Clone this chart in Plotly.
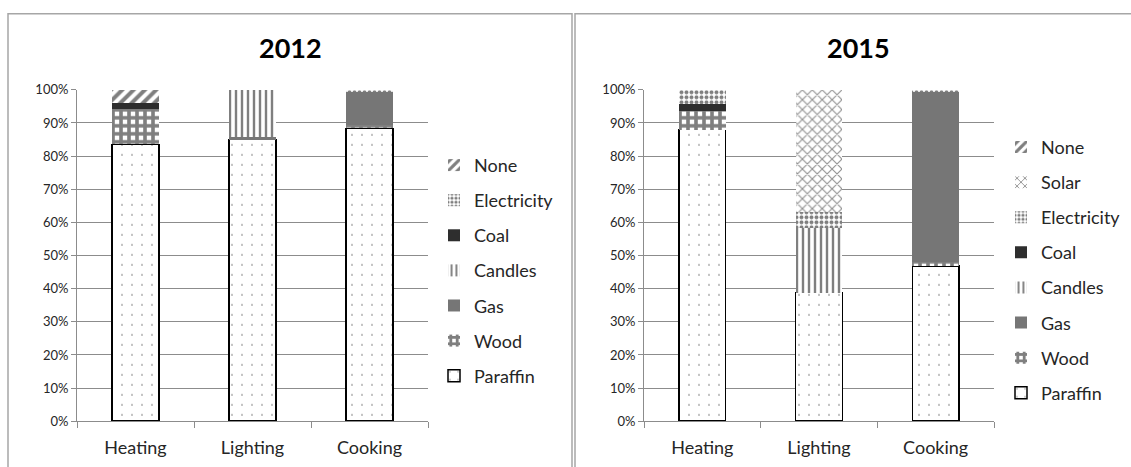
import plotly.graph_objects as go

categories = ["Heating", "Lighting", "Cooking"]

# 2012 (percent of households), stacked bottom -> top
y2012_paraffin = [83.5, 85.0, 88.4]
y2012_wood = [10.7, 0.0, 1.0]
y2012_gas = [0.0, 0.8, 9.8]
y2012_candles = [0.0, 14.2, 0.0]
y2012_coal = [1.8, 0.0, 0.0]
y2012_electricity = [0.0, 0.0, 0.8]
y2012_none = [4.0, 0.0, 0.0]

# 2015
y2015_paraffin = [88.0, 38.8, 46.8]
y2015_wood = [5.7, 0.0, 1.2]
y2015_gas = [0.0, 0.0, 51.2]
y2015_candles = [0.0, 19.4, 0.0]
y2015_coal = [2.1, 0.0, 0.0]
y2015_electricity = [4.2, 5.0, 0.8]
y2015_solar = [0.0, 36.8, 0.0]
y2015_none = [0.0, 0.0, 0.0]

W, H = 1131, 467
# the rendered plot area is inset vertically by ~8 px top and bottom
TOP, PH = 8.3, 450.4
def px(x):
    return x / W
def py(y):
    return 1 - (y - TOP) / PH

FONT = "Lato"
GRID = "#8c8c8c"

styles = {
    "Paraffin": dict(color="white", line=dict(color="#000000", width=1.5),
                     pattern=dict(shape=".", fgcolor="#000000", bgcolor="white", size=10, solidity=0.022)),
    "Wood": dict(color="white", line=dict(width=0),
                 pattern=dict(shape="+", fgcolor="#000000", bgcolor="white", size=8, solidity=0.7)),
    "Gas": dict(color="#767676", line=dict(width=0)),
    "Candles": dict(color="white", line=dict(width=0),
                    pattern=dict(shape="|", fgcolor="#000000", bgcolor="white", size=6, solidity=0.4)),
    "Coal": dict(color="#2e2e2e", line=dict(width=0)),
    "Electricity": dict(color="white", line=dict(width=0),
                        pattern=dict(shape=".", fgcolor="#000000", bgcolor="white", size=5, solidity=0.5)),
    "Solar": dict(color="white", line=dict(width=0),
                  pattern=dict(shape="x", fgcolor="#222222", bgcolor="white", size=7, solidity=0.3)),
    "None": dict(color="white", line=dict(width=0),
                 pattern=dict(shape="/", fgcolor="#000000", bgcolor="white", size=8, solidity=0.5)),
}

series2012 = [("Paraffin", y2012_paraffin), ("Wood", y2012_wood), ("Gas", y2012_gas),
              ("Candles", y2012_candles), ("Coal", y2012_coal),
              ("Electricity", y2012_electricity), ("None", y2012_none)]
series2015 = [("Paraffin", y2015_paraffin), ("Wood", y2015_wood), ("Gas", y2015_gas),
              ("Candles", y2015_candles), ("Coal", y2015_coal),
              ("Electricity", y2015_electricity), ("Solar", y2015_solar), ("None", y2015_none)]

fig = go.Figure()
for i, (name, vals) in enumerate(series2012):
    fig.add_trace(go.Bar(x=categories, y=vals, name=name, marker=styles[name],
                         xaxis="x", yaxis="y", legend="legend", legendgroup="a" + name,
                         legendrank=100 - i))
for i, (name, vals) in enumerate(series2015):
    fig.add_trace(go.Bar(x=categories, y=vals, name=name, marker=styles[name],
                         xaxis="x2", yaxis="y2", legend="legend2", legendgroup="b" + name,
                         legendrank=100 - i))

xcommon = dict(showline=True, linecolor=GRID, linewidth=1, ticks="outside", tickson="boundaries",
               ticklen=6, tickcolor=GRID, showgrid=False, ticklabelstandoff=10,
               tickfont=dict(family=FONT, size=18, color="#262626"), fixedrange=True)
ycommon = dict(showline=True, linecolor=GRID, linewidth=1, ticks="outside", ticklen=5, tickcolor=GRID,
               showgrid=True, gridcolor=GRID, gridwidth=1, range=[0, 100], dtick=10, ticksuffix="%",
               zeroline=False, tickfont=dict(family=FONT, size=13, color="#262626"), fixedrange=True)

legcommon = dict(traceorder="grouped", tracegroupgap=8.7, font=dict(family=FONT, size=18, color="#262626"),
                 bgcolor="rgba(0,0,0,0)", xanchor="left", yanchor="top", itemwidth=30)

fig.update_layout(
    width=W, height=H, autosize=False,
    margin=dict(l=0, r=0, t=0, b=0),
    paper_bgcolor="white", plot_bgcolor="white",
    barmode="stack", bargap=0.6,
    showlegend=True,
    xaxis=dict(domain=[px(77), px(428)], anchor="y", **xcommon),
    yaxis=dict(domain=[py(421), py(90)], anchor="x", **ycommon),
    xaxis2=dict(domain=[px(644), px(994)], anchor="y2", **xcommon),
    yaxis2=dict(domain=[py(421), py(90)], anchor="x2", **ycommon),
    legend=dict(x=px(434), y=py(147), **legcommon),
    legend2=dict(x=px(1001), y=py(129), **legcommon),
    shapes=[
        dict(type="rect", xref="paper", yref="paper", x0=px(8), x1=px(572), y0=-0.1, y1=py(14),
             line=dict(color="#a6a6a6", width=1.5), fillcolor="rgba(0,0,0,0)", layer="below"),
        dict(type="rect", xref="paper", yref="paper", x0=px(575), x1=px(1140), y0=-0.1, y1=py(14),
             line=dict(color="#a6a6a6", width=1.5), fillcolor="rgba(0,0,0,0)", layer="below"),
    ],
    annotations=[
        dict(text="<b>2012</b>", x=px(290), y=py(48), xref="paper", yref="paper", showarrow=False,
             font=dict(family=FONT, size=27, color="black"), xanchor="center", yanchor="middle"),
        dict(text="<b>2015</b>", x=px(858), y=py(48), xref="paper", yref="paper", showarrow=False,
             font=dict(family=FONT, size=27, color="black"), xanchor="center", yanchor="middle"),
    ],
)

fig.write_html("out.html", post_script="document.body.style.margin='0px';")
